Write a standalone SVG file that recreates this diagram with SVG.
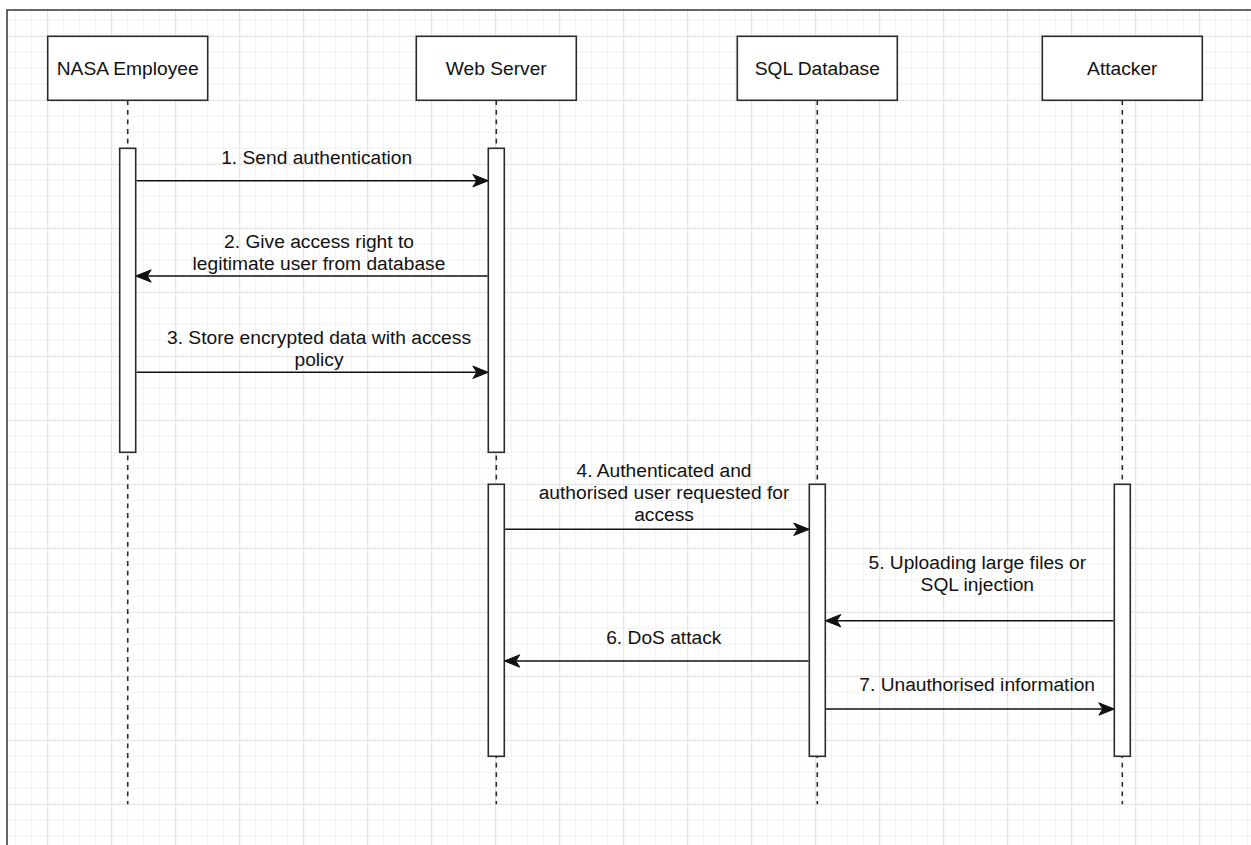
<svg xmlns="http://www.w3.org/2000/svg" width="1251" height="845" viewBox="0 0 1251 845">
<style>
.box{fill:#fff;stroke:#2b2b2b;stroke-width:1.6}
.bar{fill:#fff;stroke:#2b2b2b;stroke-width:1.6}
.life{fill:none;stroke:#2b2b2b;stroke-width:1.6;stroke-dasharray:4.8 4.8}
.msg{fill:none;stroke:#111;stroke-width:1.6;marker-end:url(#arr)}
text{font-family:"Liberation Sans",Arial,Helvetica,sans-serif;font-size:19.2px;fill:#111;text-anchor:middle}
</style>
<defs>
<pattern id="grid" x="47.2" y="35.8" width="64" height="64" patternUnits="userSpaceOnUse">
<path d="M16.5 0V64M32.5 0V64M48.5 0V64M0 16.5H64M0 32.5H64M0 48.5H64" stroke="#f1f1f1" stroke-width="1" fill="none"/>
<path d="M0.5 0V64M0 0.5H64" stroke="#e0e0e0" stroke-width="1" fill="none"/>
</pattern>
<marker id="arr" viewBox="-17 -8 19 16" refX="-6" refY="0" markerWidth="19" markerHeight="16" markerUnits="userSpaceOnUse" orient="auto">
<path d="M0 0L-15.5 -6.2L-11.5 0L-15.5 6.2Z" fill="#111" stroke="#111" stroke-width="1" stroke-linejoin="miter"/>
</marker>
</defs>
<rect x="0" y="0" width="1251" height="845" fill="#fff"/>
<rect x="7" y="10" width="1244" height="835" fill="url(#grid)"/>
<path d="M7 845V10H1251" fill="none" stroke="#333" stroke-width="1.5"/>

<g id="nasa-employee">
<line class="life" x1="127.7" y1="100.3" x2="127.7" y2="804.3"/>
<rect class="box" x="47.7" y="36.3" width="160" height="64"/>
<text x="127.7" y="75.2">NASA Employee</text>
<rect class="bar" x="119.7" y="148.3" width="16" height="304"/>
</g>
<g id="web-server">
<line class="life" x1="496.3" y1="100.3" x2="496.3" y2="804.3"/>
<rect class="box" x="416.3" y="36.3" width="160" height="64"/>
<text x="496.3" y="75.2">Web Server</text>
<rect class="bar" x="488.3" y="148.3" width="16" height="304"/>
<rect class="bar" x="488.3" y="484.3" width="16" height="272"/>
</g>
<g id="sql-database">
<line class="life" x1="817.3" y1="100.3" x2="817.3" y2="804.3"/>
<rect class="box" x="737.3" y="36.3" width="160" height="64"/>
<text x="817.3" y="75.2">SQL Database</text>
<rect class="bar" x="809.3" y="484.3" width="16" height="272"/>
</g>
<g id="attacker">
<line class="life" x1="1122.3" y1="100.3" x2="1122.3" y2="804.3"/>
<rect class="box" x="1042.3" y="36.3" width="160" height="64"/>
<text x="1122.3" y="75.2">Attacker</text>
<rect class="bar" x="1114.3" y="484.3" width="16" height="272"/>
</g>

<g id="connectors">
<path class="msg" d="M136.5 180.7H482.3"/>
<text x="316.7" y="164">1. Send authentication</text>
<path class="msg" d="M487.5 276H141.7"/>
<text x="319" y="247.5">2. Give access right to</text>
<text x="319" y="270">legitimate user from database</text>
<path class="msg" d="M136.5 372.3H482.3"/>
<text x="319" y="344.3">3. Store encrypted data with access</text>
<text x="319" y="366">policy</text>
<path class="msg" d="M505.1 529.3H803.3"/>
<text x="664" y="476.7">4. Authenticated and</text>
<text x="664" y="499">authorised user requested for</text>
<text x="664" y="521.3">access</text>
<path class="msg" d="M1113.5 620.7H831.3"/>
<text x="977.3" y="569">5. Uploading large files or</text>
<text x="977.3" y="591">SQL injection</text>
<path class="msg" d="M808.5 661H510.3"/>
<text x="663.8" y="644">6. DoS attack</text>
<path class="msg" d="M826.1 709H1108.3"/>
<text x="977.2" y="691">7. Unauthorised information</text>
</g>
</svg>
